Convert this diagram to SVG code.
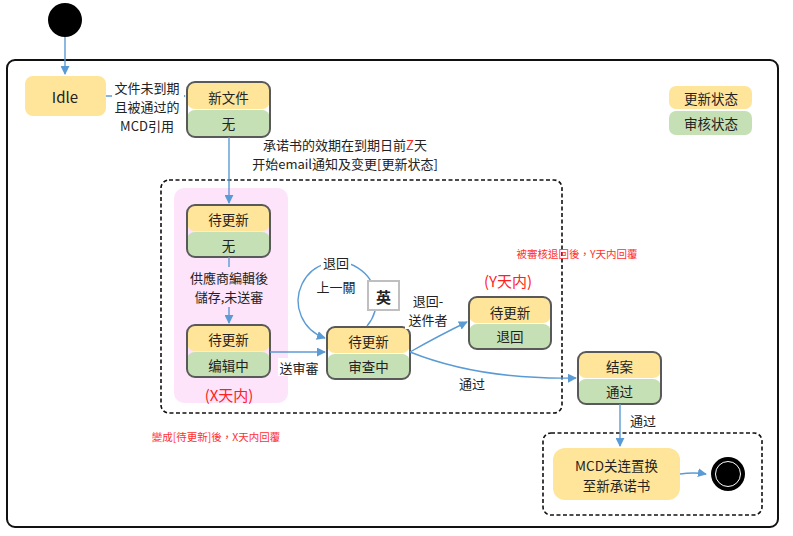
<svg xmlns="http://www.w3.org/2000/svg" width="793" height="536" viewBox="0 0 793 536">
<defs>
<marker id="ah" viewBox="0 0 10 10" refX="9" refY="5" markerWidth="9" markerHeight="9" markerUnits="userSpaceOnUse" orient="auto">
<path d="M0,0 L10,5 L0,10 z" fill="#5B9BD5"/>
</marker>
<style>
text{font-family:"Noto Sans CJK SC","Liberation Sans",sans-serif;fill:#222;text-anchor:middle;dominant-baseline:central}
.t{font-size:13.5px}
.l{font-size:13px}
.st{text-anchor:start}
.red{fill:#FF2020}
.sm{font-size:10.5px;fill:#FF3030;font-family:"Noto Sans CJK TC","Liberation Serif",serif}
.y{fill:#FFE599}
.g{fill:#C5E0B4}
.frame{fill:none;stroke:#595959;stroke-width:2}
.dash{fill:none;stroke:#111;stroke-width:1.6;stroke-dasharray:4 2.5}
.c{fill:none;stroke:#5B9BD5;stroke-width:1.4;marker-end:url(#ah)}
.bg{fill:#fff}
</style>
</defs>
<rect width="793" height="536" fill="#fff"/>
<g id="container">
<rect x="7" y="60" width="771" height="467" rx="8" fill="none" stroke="#111" stroke-width="2"/>
<rect x="161" y="180" width="401" height="233" rx="8" class="dash"/>
<rect x="174" y="188" width="114" height="215" rx="10" fill="#FDE4FB"/>
<rect x="543" y="433" width="219" height="82" rx="8" class="dash"/>
</g>
<g id="start"><circle cx="65" cy="20" r="17" fill="#000"/></g>
<g id="idle">
<rect x="25" y="76" width="81" height="40" rx="8" class="y"/>
<text x="65" y="96" class="t" style="font-size:15px">Idle</text>
</g>
<g id="new">
<rect x="187" y="82" width="83" height="27" rx="8" class="y"/>
<rect x="187" y="110" width="83" height="27" rx="8" class="g"/>
<rect x="187" y="82" width="83" height="55" rx="8" class="frame"/>
<text x="228.5" y="97" class="t">新文件</text>
<text x="228.5" y="123" class="t">无</text>
</g>
<g id="wait1">
<rect x="187" y="205" width="83" height="26" rx="8" class="y"/>
<rect x="187" y="232" width="83" height="25" rx="8" class="g"/>
<rect x="187" y="205" width="83" height="52" rx="8" class="frame"/>
<text x="228.5" y="219" class="t">待更新</text>
<text x="228.5" y="245" class="t">无</text>
</g>
<g id="wait2">
<rect x="187" y="325" width="83" height="26" rx="8" class="y"/>
<rect x="187" y="352" width="83" height="25" rx="8" class="g"/>
<rect x="187" y="325" width="83" height="52" rx="8" class="frame"/>
<text x="228.5" y="339" class="t">待更新</text>
<text x="228.5" y="365" class="t">编辑中</text>
</g>
<g id="review">
<rect x="327" y="327" width="83" height="26" rx="8" class="y"/>
<rect x="327" y="354" width="83" height="25" rx="8" class="g"/>
<rect x="327" y="327" width="83" height="52" rx="8" class="frame"/>
<text x="368.5" y="341" class="t">待更新</text>
<text x="368.5" y="366" class="t">审查中</text>
</g>
<g id="returned">
<rect x="469" y="297" width="82" height="26" rx="8" class="y"/>
<rect x="469" y="324" width="82" height="25" rx="8" class="g"/>
<rect x="469" y="297" width="82" height="52" rx="8" class="frame"/>
<text x="510" y="312" class="t">待更新</text>
<text x="510" y="336" class="t">退回</text>
</g>
<g id="closed">
<rect x="578" y="352" width="83" height="26" rx="8" class="y"/>
<rect x="578" y="379" width="83" height="25" rx="8" class="g"/>
<rect x="578" y="352" width="83" height="52" rx="8" class="frame"/>
<text x="619.5" y="366" class="t">结案</text>
<text x="619.5" y="391" class="t">通过</text>
</g>
<g id="mcd">
<rect x="553" y="448" width="127" height="52" rx="12" class="y"/>
<text x="616.5" y="464.5" class="t">MCD关连置换</text>
<text x="616.5" y="484.5" class="t">至新承诺书</text>
</g>
<g id="end">
<circle cx="728" cy="474" r="17" fill="#000"/>
<circle cx="728" cy="474" r="12.5" fill="none" stroke="#fff" stroke-width="1"/>
</g>
<g id="legend">
<rect x="669" y="86" width="83" height="23" rx="7" class="y"/>
<text x="711" y="97.5" class="t">更新状态</text>
<rect x="669" y="111" width="83" height="24" rx="7" class="g"/>
<text x="711" y="123" class="t">审核状态</text>
</g>
<g id="connectors">
<path d="M65,37 V74" class="c"/>
<path d="M106,96 H185" class="c"/>
<path d="M229,137 V203" class="c"/>
<path d="M229,257 V323" class="c"/>
<path d="M270,352 H325" class="c"/>
<path d="M367,326 A39 39 0 1 0 325,338" class="c"/>
<path d="M410,352 Q440,335 467,322" class="c"/>
<path d="M410,352 Q480,380 576,378" class="c"/>
<path d="M620,404 V446" class="c"/>
<path d="M680,474 Q694,472 706,474" class="c"/>
</g>
<g id="labels">
<rect x="112" y="77" width="72" height="57" class="bg"/>
<text x="147" y="87" class="l">文件未到期</text>
<text x="147" y="106" class="l">且被通过的</text>
<text x="147" y="125" class="l">MCD引用</text>
<text x="263" y="144" class="l st">承诺书的效期在到期日前</text>
<text x="406" y="144" class="l st red">Z</text>
<text x="414" y="144" class="l st">天</text>
<text x="345" y="163" class="l">开始email通知及变更[更新状态]</text>
<rect x="184" y="267" width="90" height="40" fill="#FDE4FB"/>
<text x="229" y="277.5" class="l">供應商編輯後</text>
<text x="229" y="296.5" class="l">儲存,未送審</text>
<text x="229" y="394" class="l red" style="font-size:15px">(X天内)</text>
<rect x="278" y="358" width="42" height="18" class="bg"/>
<text x="299" y="367" class="l">送审審</text>
<rect x="321" y="253" width="30" height="18" class="bg"/>
<text x="336" y="262" class="l">退回</text>
<text x="336" y="286" class="l">上一關</text>
<rect x="368" y="281" width="31" height="29" fill="#fff" stroke="#BFBFBF" stroke-width="2"/>
<text x="383.5" y="296" class="t" style="font-weight:bold;font-size:15px">英</text>
<rect x="405" y="291" width="46" height="38" class="bg"/>
<text x="428" y="300" class="l">退回-</text>
<text x="428" y="319.5" class="l">送件者</text>
<text x="508" y="280" class="l red" style="font-size:15px">(Y天内)</text>
<text x="472" y="383" class="l">通过</text>
<text x="643" y="420" class="l">通过</text>
<text x="577" y="253" class="sm">被審核退回後，Y天内回覆</text>
<text x="216" y="436" class="sm">變成[待更新]後，X天内回覆</text>
</g>
</svg>
